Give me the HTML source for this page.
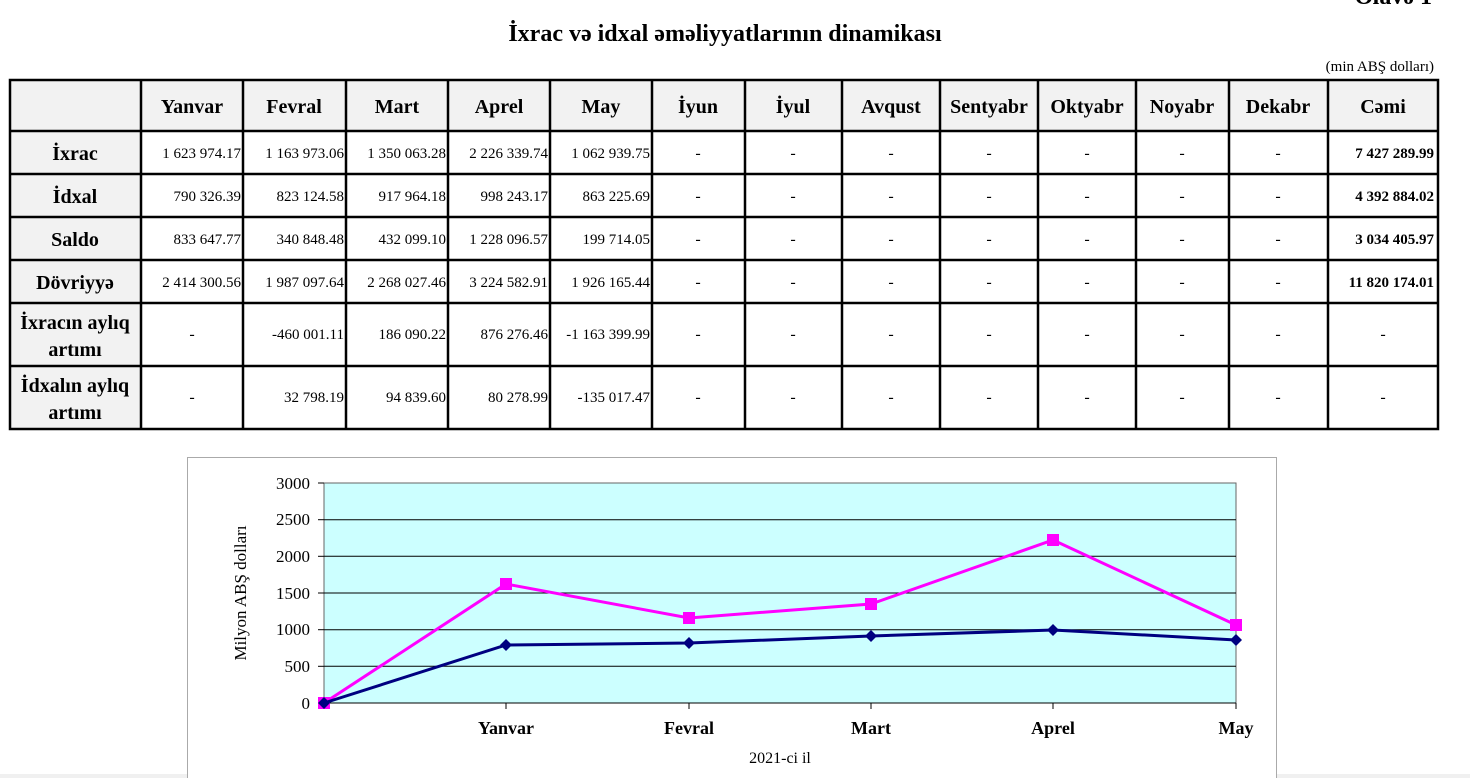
<!DOCTYPE html>
<html><head><meta charset="utf-8"><style>
html,body{margin:0;padding:0;background:#fff;width:1470px;height:778px;overflow:hidden}
svg{display:block;font-family:"Liberation Serif",serif}
</style></head><body>
<svg width="1470" height="778" viewBox="0 0 1470 778">
<rect x="0" y="774" width="1470" height="4" fill="#f0f0f0"/>
<text x="1432" y="4" font-size="24" font-weight="bold" text-anchor="end">Əlavə 1</text>
<text x="725" y="41" font-size="24" font-weight="bold" text-anchor="middle">İxrac və idxal əməliyyatlarının dinamikası</text>
<text x="1434" y="71" font-size="15" text-anchor="end">(min ABŞ dolları)</text>
<rect x="10" y="80" width="1428" height="51" fill="#f2f2f2"/>
<rect x="10" y="80" width="131" height="349" fill="#f2f2f2"/>
<g stroke="#000" stroke-width="2.5" fill="none">
<rect x="10" y="80" width="1428" height="349"/>
<line x1="10" y1="131" x2="1438" y2="131"/><line x1="10" y1="174" x2="1438" y2="174"/>
<line x1="10" y1="217" x2="1438" y2="217"/><line x1="10" y1="260" x2="1438" y2="260"/>
<line x1="10" y1="303" x2="1438" y2="303"/><line x1="10" y1="366" x2="1438" y2="366"/>
<line x1="141" y1="80" x2="141" y2="429"/><line x1="243" y1="80" x2="243" y2="429"/>
<line x1="346" y1="80" x2="346" y2="429"/><line x1="448" y1="80" x2="448" y2="429"/>
<line x1="550" y1="80" x2="550" y2="429"/><line x1="652" y1="80" x2="652" y2="429"/>
<line x1="745" y1="80" x2="745" y2="429"/><line x1="842" y1="80" x2="842" y2="429"/>
<line x1="940" y1="80" x2="940" y2="429"/><line x1="1038" y1="80" x2="1038" y2="429"/>
<line x1="1136" y1="80" x2="1136" y2="429"/><line x1="1229" y1="80" x2="1229" y2="429"/>
<line x1="1328" y1="80" x2="1328" y2="429"/>
</g>
<g font-size="20" font-weight="bold" text-anchor="middle">
<text x="192" y="113">Yanvar</text><text x="294" y="113">Fevral</text><text x="397" y="113">Mart</text>
<text x="499" y="113">Aprel</text><text x="601" y="113">May</text><text x="698" y="113">İyun</text>
<text x="793" y="113">İyul</text><text x="891" y="113">Avqust</text><text x="989" y="113">Sentyabr</text>
<text x="1087" y="113">Oktyabr</text><text x="1182" y="113">Noyabr</text><text x="1278" y="113">Dekabr</text>
<text x="1383" y="113">Cəmi</text>
<text x="75" y="160">İxrac</text><text x="75" y="203">İdxal</text><text x="75" y="246">Saldo</text>
<text x="75" y="289">Dövriyyə</text>
<text x="75" y="329">İxracın aylıq</text><text x="75" y="356">artımı</text>
<text x="75" y="392">İdxalın aylıq</text><text x="75" y="419">artımı</text>
</g>
<g font-size="15" text-anchor="end">
<text x="241" y="158">1 623 974.17</text><text x="344" y="158">1 163 973.06</text><text x="446" y="158">1 350 063.28</text><text x="548" y="158">2 226 339.74</text><text x="650" y="158">1 062 939.75</text>
<text x="241" y="201">790 326.39</text><text x="344" y="201">823 124.58</text><text x="446" y="201">917 964.18</text><text x="548" y="201">998 243.17</text><text x="650" y="201">863 225.69</text>
<text x="241" y="244">833 647.77</text><text x="344" y="244">340 848.48</text><text x="446" y="244">432 099.10</text><text x="548" y="244">1 228 096.57</text><text x="650" y="244">199 714.05</text>
<text x="241" y="287">2 414 300.56</text><text x="344" y="287">1 987 097.64</text><text x="446" y="287">2 268 027.46</text><text x="548" y="287">3 224 582.91</text><text x="650" y="287">1 926 165.44</text>
<text x="344" y="339">-460 001.11</text><text x="446" y="339">186 090.22</text><text x="548" y="339">876 276.46</text><text x="650" y="339">-1 163 399.99</text>
<text x="344" y="402">32 798.19</text><text x="446" y="402">94 839.60</text><text x="548" y="402">80 278.99</text><text x="650" y="402">-135 017.47</text>
</g>
<g font-size="15" font-weight="bold" text-anchor="end">
<text x="1434" y="158">7 427 289.99</text><text x="1434" y="201">4 392 884.02</text><text x="1434" y="244">3 034 405.97</text><text x="1434" y="287">11 820 174.01</text>
</g>
<g font-size="16" text-anchor="middle">
<text x="698" y="158">-</text><text x="793" y="158">-</text><text x="891" y="158">-</text><text x="989" y="158">-</text><text x="1087" y="158">-</text><text x="1182" y="158">-</text><text x="1278" y="158">-</text>
<text x="698" y="201">-</text><text x="793" y="201">-</text><text x="891" y="201">-</text><text x="989" y="201">-</text><text x="1087" y="201">-</text><text x="1182" y="201">-</text><text x="1278" y="201">-</text>
<text x="698" y="244">-</text><text x="793" y="244">-</text><text x="891" y="244">-</text><text x="989" y="244">-</text><text x="1087" y="244">-</text><text x="1182" y="244">-</text><text x="1278" y="244">-</text>
<text x="698" y="287">-</text><text x="793" y="287">-</text><text x="891" y="287">-</text><text x="989" y="287">-</text><text x="1087" y="287">-</text><text x="1182" y="287">-</text><text x="1278" y="287">-</text>
<text x="192" y="339">-</text><text x="698" y="339">-</text><text x="793" y="339">-</text><text x="891" y="339">-</text><text x="989" y="339">-</text><text x="1087" y="339">-</text><text x="1182" y="339">-</text><text x="1278" y="339">-</text><text x="1383" y="339">-</text>
<text x="192" y="402">-</text><text x="698" y="402">-</text><text x="793" y="402">-</text><text x="891" y="402">-</text><text x="989" y="402">-</text><text x="1087" y="402">-</text><text x="1182" y="402">-</text><text x="1278" y="402">-</text><text x="1383" y="402">-</text>
</g>
<rect x="187.5" y="457.5" width="1089" height="330" fill="#fff" stroke="#aaa" stroke-width="1"/>
<rect x="324" y="483" width="912" height="220" fill="#ccffff" stroke="#666" stroke-width="1"/>
<g stroke="#000" stroke-width="1">
<line x1="324" y1="519.7" x2="1236" y2="519.7"/><line x1="324" y1="556.3" x2="1236" y2="556.3"/>
<line x1="324" y1="593" x2="1236" y2="593"/><line x1="324" y1="629.7" x2="1236" y2="629.7"/>
<line x1="324" y1="666.3" x2="1236" y2="666.3"/>
<line x1="318" y1="483" x2="324" y2="483"/><line x1="318" y1="519.7" x2="324" y2="519.7"/><line x1="318" y1="556.3" x2="324" y2="556.3"/><line x1="318" y1="593" x2="324" y2="593"/><line x1="318" y1="629.7" x2="324" y2="629.7"/><line x1="318" y1="666.3" x2="324" y2="666.3"/><line x1="318" y1="703" x2="324" y2="703"/>
<line x1="324" y1="703" x2="1236" y2="703"/>
<line x1="506" y1="703" x2="506" y2="709"/><line x1="689" y1="703" x2="689" y2="709"/><line x1="871" y1="703" x2="871" y2="709"/><line x1="1053" y1="703" x2="1053" y2="709"/><line x1="1236" y1="703" x2="1236" y2="709"/>
</g>
<g font-size="17" text-anchor="end">
<text x="310" y="489">3000</text><text x="310" y="525">2500</text><text x="310" y="562">2000</text><text x="310" y="599">1500</text><text x="310" y="635">1000</text><text x="310" y="672">500</text><text x="310" y="709">0</text>
</g>
<text transform="translate(246,593) rotate(-90)" font-size="17" text-anchor="middle">Milyon ABŞ dolları</text>
<g font-size="18" font-weight="bold" text-anchor="middle">
<text x="506" y="734">Yanvar</text><text x="689" y="734">Fevral</text><text x="871" y="734">Mart</text><text x="1053" y="734">Aprel</text><text x="1236" y="734">May</text>
</g>
<text x="780" y="763" font-size="16" text-anchor="middle">2021-ci il</text>
<polyline points="324,703 506,584 689,618 871,604 1053,540 1236,625" fill="none" stroke="#ff00ff" stroke-width="3"/>
<g fill="#ff00ff">
<rect x="318" y="697" width="12" height="12"/><rect x="500" y="578" width="12" height="12"/><rect x="683" y="612" width="12" height="12"/><rect x="865" y="598" width="12" height="12"/><rect x="1047" y="534" width="12" height="12"/><rect x="1230" y="619" width="12" height="12"/>
</g>
<polyline points="324,703 506,645 689,643 871,636 1053,630 1236,640" fill="none" stroke="#000080" stroke-width="3"/>
<g fill="#000080">
<polygon points="324,697 330,703 324,709 318,703"/><polygon points="506,639 512,645 506,651 500,645"/><polygon points="689,637 695,643 689,649 683,643"/><polygon points="871,630 877,636 871,642 865,636"/><polygon points="1053,624 1059,630 1053,636 1047,630"/><polygon points="1236,634 1242,640 1236,646 1230,640"/>
</g>
</svg>
</body></html>
